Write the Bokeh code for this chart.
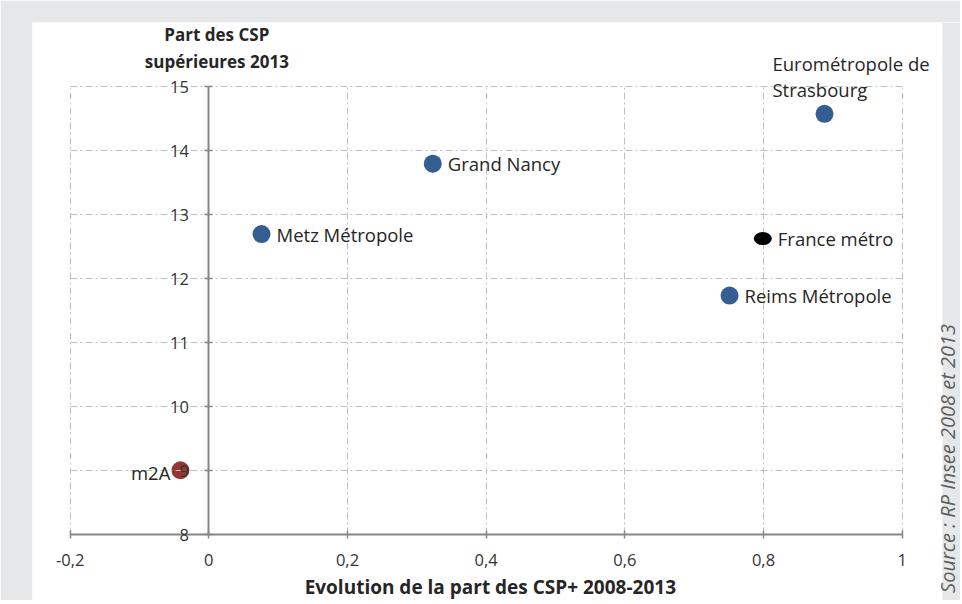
import math
from bokeh.plotting import figure
from bokeh.models import (ColumnDataSource, Range1d, FixedTicker, LabelSet, Label, Grid, BoxAnnotation)
from bokeh.core.properties import value
from bokeh.embed import file_html
from bokeh.resources import INLINE

# ---------------- data ----------------
names = ["Eurométropole de\nStrasbourg", "Grand Nancy", "Metz Métropole",
         "France métro", "Reims Métropole", "m2A"]
evolution = [0.888, 0.323, 0.076, 0.799, 0.751, -0.041]   # évolution part CSP+ 2008-2013
part_csp = [14.58, 13.80, 12.70, 12.63, 11.74, 9.01]       # part des CSP supérieures 2013
groups = ["epci", "epci", "epci", "france", "epci", "m2a"]

x_ticks = [-0.2, 0, 0.2, 0.4, 0.6, 0.8, 1]
x_tick_labels = ["-0,2", "0", "0,2", "0,4", "0,6", "0,8", "1"]
y_ticks = [8, 9, 10, 11, 12, 13, 14, 15]
y_tick_labels = ["8", "9", "10", "11", "12", "13", "14", "15"]

x_title = "Evolution de la part des CSP+ 2008-2013"
y_title = "Part des CSP\nsupérieures 2013"
source_text = "Source : RP Insee 2008 et 2013"

# ---------------- styles / layout ----------------
FONT = "Open Sans"
colors = {"epci": "#345e91", "m2a": "#943634", "france": "#000000"}
placement = {
    "Eurométropole de\nStrasbourg": "above",
    "Grand Nancy": "right",
    "Metz Métropole": "right",
    "France métro": "right",
    "Reims Métropole": "right",
    "m2A": "left",
}
GRID_COLOR = "#bfbfbf"
AXIS_COLOR = "#868686"
TEXT_COLOR = "#262626"
FRAME_GRAY = "#e6e7e8"
X_VIEW = (-0.2543, 1.0841)   # full frame width (incl. right source strip)
WHITE_PANEL_RIGHT = 1.0581    # where the white panel ends and the grey source strip starts

p = figure(width=960, height=600, output_backend="svg", toolbar_location=None,
           x_range=Range1d(*X_VIEW), y_range=Range1d(6.975, 16.006),
           min_border_left=32, min_border_right=0, min_border_top=22, min_border_bottom=0)
p.border_fill_color = FRAME_GRAY
p.background_fill_color = "#ffffff"
p.outline_line_color = None

# grey strip on the right holding the source
p.add_layout(BoxAnnotation(left=WHITE_PANEL_RIGHT, fill_color=FRAME_GRAY, fill_alpha=1.0,
                           line_color=None, level="underlay"))

# axes crossing at (0, 8)
xax = p.xaxis[0]
yax = p.yaxis[0]
xax.fixed_location = 8
xax.bounds = (min(x_ticks), max(x_ticks))
xax.ticker = FixedTicker(ticks=x_ticks)
xax.major_label_overrides = {t: l for t, l in zip(x_ticks, x_tick_labels)}
yax.fixed_location = 0
yax.bounds = (min(y_ticks), max(y_ticks))
yax.ticker = FixedTicker(ticks=y_ticks)
yax.major_label_overrides = {t: l for t, l in zip(y_ticks, y_tick_labels)}
for ax in (xax, yax):
    ax.axis_line_color = AXIS_COLOR
    ax.axis_line_width = 2
    ax.major_tick_line_color = AXIS_COLOR
    ax.major_tick_line_width = 1.5
    ax.major_tick_in = 4
    ax.major_tick_out = 4
    ax.minor_tick_line_color = None
    ax.major_label_text_font = FONT
    ax.major_label_text_font_size = "16.5px"
    ax.major_label_text_color = "#333333"
xax.major_label_standoff = 15
yax.major_label_standoff = 16

# grid confined to the box
has_cross = "cross_bounds" in Grid.properties()
p.xgrid.ticker = FixedTicker(ticks=x_ticks)
p.ygrid.ticker = FixedTicker(ticks=y_ticks)
for g in (p.xgrid, p.ygrid):
    g.grid_line_color = GRID_COLOR
    g.grid_line_width = 1
    g.grid_line_dash = "7 3 2 3"
p.xgrid.bounds = (min(x_ticks), max(x_ticks))
p.ygrid.bounds = (min(y_ticks), max(y_ticks))
if has_cross:
    p.xgrid.cross_bounds = (min(y_ticks), max(y_ticks))
    p.ygrid.cross_bounds = (min(x_ticks), max(x_ticks))
else:
    p.xgrid.visible = False
    p.ygrid.visible = False
    p.segment(x0=x_ticks, x1=x_ticks, y0=[min(y_ticks)] * len(x_ticks), y1=[max(y_ticks)] * len(x_ticks),
              line_color=GRID_COLOR, line_dash="7 3 2 3", line_width=1, level="underlay")
    p.segment(x0=[min(x_ticks)] * len(y_ticks), x1=[max(x_ticks)] * len(y_ticks), y0=y_ticks, y1=y_ticks,
              line_color=GRID_COLOR, line_dash="7 3 2 3", line_width=1, level="underlay")

# points
def subset(pred):
    idx = [i for i in range(len(names)) if pred(i)]
    return ColumnDataSource(dict(x=[evolution[i] for i in idx], y=[part_csp[i] for i in idx],
                                 name=[names[i] for i in idx],
                                 color=[colors[groups[i]] for i in idx]))

circ_src = subset(lambda i: groups[i] != "france")
p.scatter("x", "y", source=circ_src, size=18, marker="circle", fill_color="color", line_color=None,
          level="underlay")
ell_src = subset(lambda i: groups[i] == "france")
p.ellipse("x", "y", source=ell_src, width=18, height=13, width_units="screen", height_units="screen",
          fill_color="color", line_color=None)

# point labels
lab_common = dict(text_font=value(FONT), text_font_size="18.5px", text_color=TEXT_COLOR)
p.add_layout(LabelSet(x="x", y="y", text="name", source=subset(lambda i: placement[names[i]] == "right"),
                      text_align="left", text_baseline="middle", x_offset=15, y_offset=0, **lab_common))
p.add_layout(LabelSet(x="x", y="y", text="name", source=subset(lambda i: placement[names[i]] == "left"),
                      text_align="right", text_baseline="middle", x_offset=-10, y_offset=-2, **lab_common))
p.add_layout(LabelSet(x="x", y="y", text="name", source=subset(lambda i: placement[names[i]] == "above"),
                      text_align="center", text_baseline="bottom", x_offset=26.5, y_offset=12,
                      text_line_height=1.05, **lab_common))

# titles
p.add_layout(Label(x=0, y=max(y_ticks), text=y_title, x_offset=8, y_offset=39,
                   text_align="center", text_baseline="middle", text_line_height=1.15,
                   text_font=FONT, text_font_size="17px", text_font_style="bold",
                   text_color=TEXT_COLOR))
p.add_layout(Label(x=0.406, y=min(y_ticks), text=x_title, y_offset=-52,
                   text_align="center", text_baseline="middle",
                   text_font=FONT, text_font_size="19px", text_font_style="bold",
                   text_color=TEXT_COLOR))
p.add_layout(Label(x=max(x_ticks), y=min(y_ticks), text=source_text, x_offset=45, y_offset=-58,
                   angle=90, angle_units="deg", text_align="left", text_baseline="middle",
                   text_font=FONT, text_font_size="20px", text_font_style="italic",
                   text_color="#5f5f5f"))

open("out.html", "w").write(file_html(p, INLINE))
